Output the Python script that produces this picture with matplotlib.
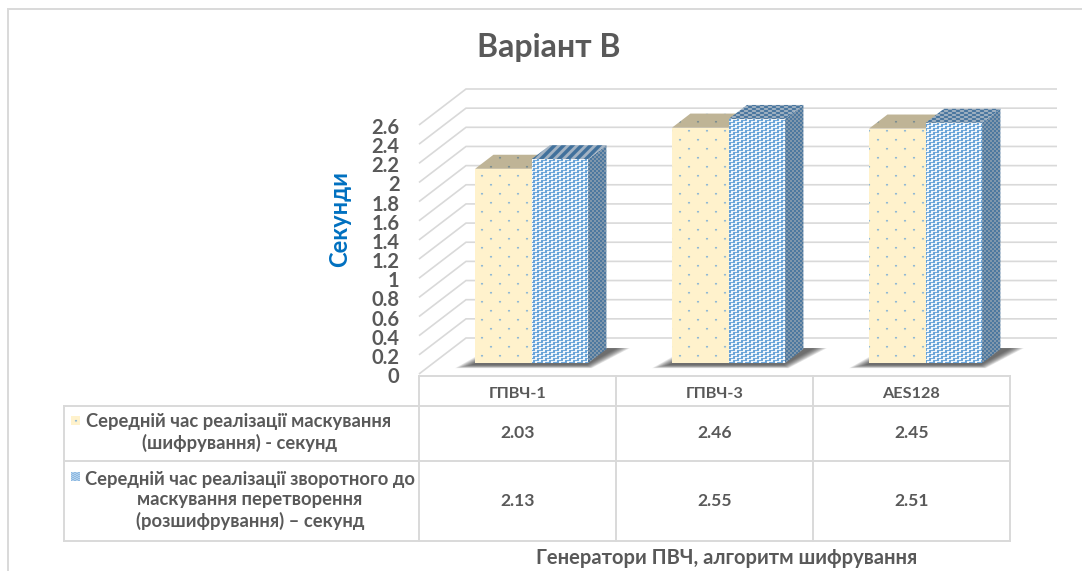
import numpy as np
import matplotlib
matplotlib.use("Agg")
import matplotlib.pyplot as plt
from matplotlib.colors import to_rgb
from matplotlib.patches import Polygon
from matplotlib.transforms import Affine2D

# chart values
categories = ["ГПВЧ-1", "ГПВЧ-3", "AES128"]
mask_times = [2.03, 2.46, 2.45]
unmask_times = [2.13, 2.55, 2.51]
y_ticks = [0, 0.2, 0.4, 0.6, 0.8, 1, 1.2, 1.4, 1.6, 1.8, 2, 2.2, 2.4, 2.6]
y_labels = ["0", "0.2", "0.4", "0.6", "0.8", "1", "1.2", "1.4", "1.6", "1.8", "2", "2.2", "2.4", "2.6"]
mask_label = "Середній час реалізації маскування\n(шифрування) - секунд"
unmask_label = "Середній час реалізації зворотного до\nмаскування перетворення\n(розшифрування) – секунд"

W, H = 1082, 571
GRAY = "#595959"
GRID = "#D9D9D9"

plt.rcParams["font.family"] = ["Lato", "DejaVu Sans"]
plt.rcParams["font.weight"] = "bold"

fig = plt.figure(figsize=(W / 100, H / 100), dpi=100, facecolor="white")

# overlay in pixel units for the frame and the data table
page = fig.add_axes([0, 0, 1, 1])
page.set_xlim(0, W)
page.set_ylim(H, 0)
page.axis("off")

# front plane of the 3d box, depth is faked with a shear
ax = fig.add_axes([419 / W, 1 - 374 / H, 591 / W, 249 / H])
ax.set_xlim(0, 3)
ax.set_ylim(0, 2.6)
ax.patch.set_visible(False)
for s in ax.spines.values():
    s.set_visible(False)
ax.set_xticks([])
ax.set_yticks(y_ticks)
ax.set_yticklabels(y_labels, fontsize=14.5, color=GRAY, fontweight="bold")
ax.tick_params(axis="y", length=0, pad=14)
for lab in ax.get_yticklabels():
    lab.set_transform(lab.get_transform() + Affine2D().translate(0, -1))
ax.autoscale(False)

# the bar textures sit on their own layer above the gridlines
tex = fig.add_axes([0, 0, 1, 1], zorder=5)
tex.set_xlim(0, W)
tex.set_ylim(H, 0)
tex.axis("off")
tex.autoscale(False)

PX_X = 591 / 3
PX_Y = 249 / 2.6
DEPTH_X = 47 / PX_X
DEPTH_Y = 36 / PX_Y


def pt(x, y, d=0.0):
    return x + d * DEPTH_X, y + d * DEPTH_Y


def soften(t, w=0.12):
    # small wrap-around blur so the patterns are not razor sharp
    out = t * (1 - 4 * w)
    for axis in (0, 1):
        for shift in (-1, 1):
            out = out + np.roll(t, shift, axis=axis) * w
    return out


def fill_page(t):
    reps = (H // t.shape[0] + 1, W // t.shape[1] + 1, 1)
    return np.tile(t, reps)[:H, :W]


def make_tile(rows, a, b, w=0.12):
    a, b = np.array(to_rgb(a)), np.array(to_rgb(b))
    m = np.array([[int(c) for c in r] for r in rows])[..., None]
    return fill_page(soften(a * (1 - m) + b * m, w))


def dots_tile(base, dot):
    t = np.ones((18, 18, 3)) * np.array(to_rgb(base))
    d = np.array(to_rgb(dot))
    for r, c in [(4, 4), (13, 13)]:
        t[r, c] = d
        t[r, c + 1] = d
        t[r + 1, c] = (d + t[0, 0]) / 2
        t[r + 1, c + 1] = (d + t[0, 0]) / 2
    return fill_page(soften(t, 0.06))


yellow_front = dots_tile("#FFF2CC", "#7FB0D6")
yellow_top = dots_tile("#BFB596", "#72868F")
blue_front = make_tile(["00011000", "11111001", "10000001", "10011111"], "#5B9BD5", "#FFFFFF", 0.07)
blue_side = make_tile(["0011", "0011", "1100", "1100"], "#41719C", "#8C9FB0", 0.08)
blue_top = make_tile(["00001111", "00001111", "11110000", "11110000"], "#41719C", "#A5B5C4", 0.08)
blue_stripes = make_tile(["000011111", "000111110", "001111100", "011111000",
                          "111110000", "111100001", "111000011", "110000111", "100001111"],
                         "#A5B5C4", "#41719C", 0.08)


def face(corners, img, zorder):
    im = tex.imshow(img, extent=(0, W, H, 0), aspect="auto", interpolation="nearest", zorder=zorder)
    im.set_clip_box(fig.bbox)
    im.set_clip_path(Polygon(corners, closed=True, transform=ax.transData))


def box(x, w, v, img_f, img_s, img_t, zorder):
    d0, d1 = 0.30, 0.69
    face([pt(x + w, 0, d0), pt(x + w, 0, d1), pt(x + w, v, d1), pt(x + w, v, d0)], img_s, zorder)
    face([pt(x, v, d0), pt(x + w, v, d0), pt(x + w, v, d1), pt(x, v, d1)], img_t, zorder + 0.1)
    face([pt(x, 0, d0), pt(x + w, 0, d0), pt(x + w, v, d0), pt(x, v, d0)], img_f, zorder + 0.2)


# back wall, left wall and floor gridlines
for v in y_ticks:
    xa, ya = pt(0, v, 0)
    xb, yb = pt(0, v, 1)
    xc, yc = pt(3, v, 1)
    ax.plot([xa, xb, xc], [ya, yb, yc], color=GRID, lw=1.2, clip_on=False, zorder=1,
            solid_joinstyle="miter", solid_capstyle="butt")

bar_w = 56.5 / PX_X
for i in range(len(categories)):
    c = i + 0.5
    left = c - bar_w
    right = c + bar_w
    # soft shadow on the floor, stacked translucent layers
    for grow in np.linspace(1.0, 0.1, 10):
        g = grow * 18 / PX_X
        drop = grow * 3.5 / PX_Y
        shadow = [pt(left - g, -drop, 0.26), pt(right + g * 0.3, -drop, 0.26),
                  pt(right + (8 + 14 * grow) / PX_X, 0, 0.72), pt(left + 14 / PX_X - g, 0, 0.72)]
        ax.add_patch(Polygon(shadow, closed=True, fc="#303030", ec="none", alpha=0.11, zorder=2, clip_on=False))
    box(left, bar_w, mask_times[i], yellow_front, yellow_front, yellow_top, 3)
    top = blue_stripes if i == 0 else blue_top
    box(c, bar_w, unmask_times[i], blue_front, blue_side, top, 4)

# page frame
page.plot([8, 8, W], [H, 8.5, 8.5], color=GRID, lw=1.4, solid_joinstyle="miter")

# data table
col_x = [419, 616, 813, 1010]
row_y = [375.5, 405.5, 461, 541]
tkw = dict(color=GRID, lw=1.4, solid_capstyle="projecting")
page.plot([col_x[0], col_x[-1]], [row_y[0], row_y[0]], **tkw)
for y in row_y[1:]:
    page.plot([63.5, col_x[-1]], [y, y], **tkw)
for x in col_x:
    page.plot([x, x], [row_y[0], row_y[-1]], **tkw)
page.plot([63.5, 63.5], [row_y[1], row_y[-1]], **tkw)

txt = dict(ha="center", va="center", color=GRAY, fontweight="bold")
for i, name in enumerate(categories):
    cx = (col_x[i] + col_x[i + 1]) / 2
    page.text(cx, 394, name, fontsize=11.7, **txt)
    page.text(cx, 433, f"{mask_times[i]:.2f}", fontsize=12.6, **txt)
    page.text(cx, 501.5, f"{unmask_times[i]:.2f}", fontsize=12.6, **txt)

page.text(239, 432.5, mask_label, linespacing=1.25, fontsize=13.2, **txt)
page.text(250, 500.5, unmask_label, linespacing=1.25, fontsize=13.2, **txt)

# legend keys in the first column
page.imshow(yellow_front[:9, :9], extent=(71, 80, 425, 416), aspect="auto", interpolation="nearest")
page.imshow(make_tile(["0110", "1001", "0110", "1001"], "#5B9BD5", "#E8F1FA")[:9, :9],
            extent=(71, 80, 481, 472), aspect="auto", interpolation="nearest")
page.set_xlim(0, W)
page.set_ylim(H, 0)

# titles
page.text(549, 47, "Варіант В", ha="center", va="center", color=GRAY, fontweight="bold", fontsize=23)
page.text(340, 219, "Секунди", ha="center", va="center", rotation=90, color="#0070C0",
          fontweight="bold", fontsize=17)
page.text(727, 558.5, "Генератори ПВЧ, алгоритм шифрування", ha="center", va="center",
          color=GRAY, fontweight="bold", fontsize=14.5)

fig.savefig("out.png", dpi=100)
